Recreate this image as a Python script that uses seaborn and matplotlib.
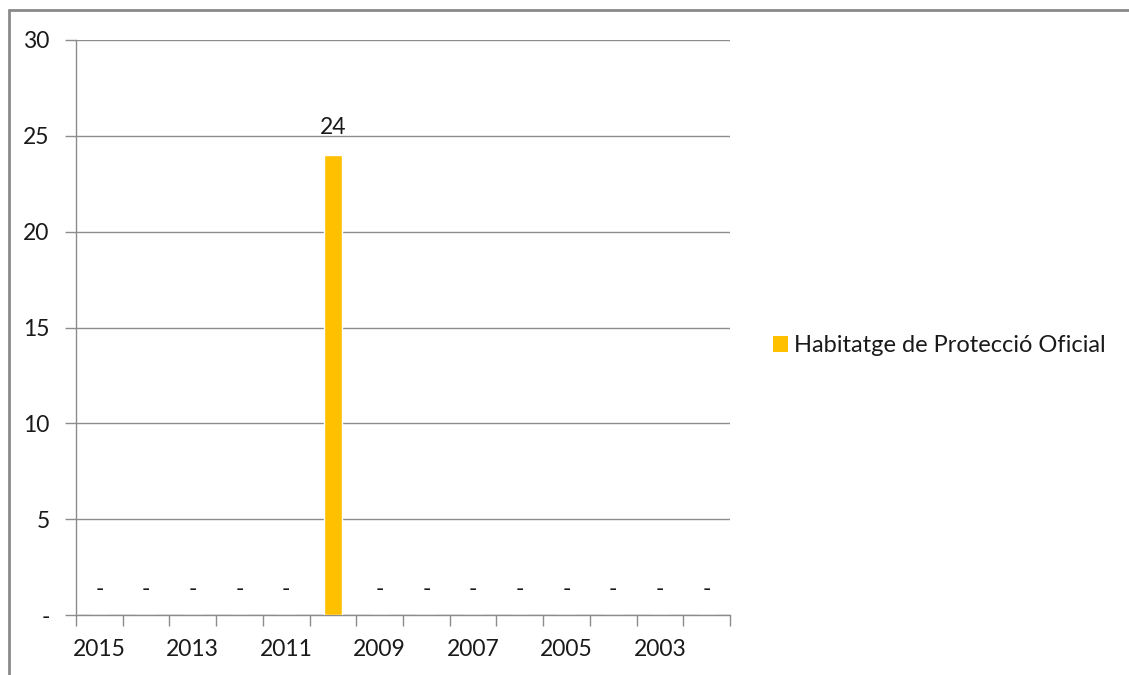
import matplotlib
matplotlib.use("Agg")
import matplotlib.pyplot as plt
import seaborn as sns
from matplotlib.patches import Patch
from matplotlib.lines import Line2D
import matplotlib.ticker as mticker

years = ["2015", "2014", "2013", "2012", "2011", "2010", "2009", "2008",
         "2007", "2006", "2005", "2004", "2003", "2002"]
values = [0, 0, 0, 0, 0, 24, 0, 0, 0, 0, 0, 0, 0, 0]
series_name = "Habitatge de Protecció Oficial"
y_ticks = [0, 5, 10, 15, 20, 25, 30]
y_labels = ["-", "5", "10", "15", "20", "25", "30"]

sns.set_theme(style="white")
plt.rcParams["font.family"] = ["Lato", "DejaVu Sans"]
FS = 16.5
FSL = 17
TXT = "#1a1a1a"
GRID = "#8c8c8c"
BAR = "#FFC000"

W, H = 1129, 675
fig = plt.figure(figsize=(W / 100, H / 100), dpi=100)
ax = fig.add_axes([76 / W, 1 - 615 / H, (730 - 76) / W, (615 - 40) / H])

sns.barplot(x=years, y=values, order=years, color=BAR, width=0.39,
            saturation=1, ax=ax, zorder=3)

ax.set_xlim(-0.5, len(years) - 0.5)
ax.set_ylim(0, 30)
ax.set_yticks(y_ticks)
ax.set_yticklabels(y_labels)
ax.yaxis.grid(True, color=GRID, linewidth=1)
ax.set_axisbelow(True)

ax.set_xticks(range(len(years)))
ax.set_xticklabels([y if i % 2 == 0 else "" for i, y in enumerate(years)])
ax.xaxis.set_minor_locator(mticker.FixedLocator([i - 0.5 for i in range(len(years) + 1)]))
ax.tick_params(axis="x", which="major", length=0, pad=17, labelsize=FS, labelcolor=TXT)
ax.tick_params(axis="x", which="minor", length=8, width=1, color=GRID, bottom=True)
ax.tick_params(axis="y", which="major", length=8, width=1, color=GRID, left=True,
               pad=11, labelsize=FS, labelcolor=TXT)
ax.set_xlabel("")
ax.set_ylabel("")

for s in ["top", "right"]:
    ax.spines[s].set_visible(False)
for s in ["left", "bottom"]:
    ax.spines[s].set_color(GRID)
    ax.spines[s].set_linewidth(1)

for i, v in enumerate(values):
    if v == 0:
        ax.annotate("-", (i, 0), xytext=(0, 25), textcoords="offset pixels",
                    ha="center", va="center", fontsize=FS, color=TXT)
    else:
        ax.annotate(f"{v:g}", (i, v), xytext=(0, 27), textcoords="offset pixels",
                    ha="center", va="center", fontsize=FS, color=TXT)

fig.legend(handles=[Patch(facecolor=BAR, edgecolor="none", label=series_name)],
           loc="center left", bbox_to_anchor=(773 / W, 1 - 346 / H),
           frameon=False, fontsize=FSL, handlelength=0.65, handleheight=0.65,
           handletextpad=0.22, borderpad=0, borderaxespad=0, labelcolor=TXT)

# outer chart border
fig.add_artist(Line2D([8.5 / W, 8.5 / W], [0, 1 - 9.5 / H], color="#8a8a8a", lw=2,
                      transform=fig.transFigure))
fig.add_artist(Line2D([8.5 / W, 1], [1 - 9.5 / H, 1 - 9.5 / H], color="#8a8a8a", lw=2,
                      transform=fig.transFigure))

fig.savefig("out.png", dpi=100)
